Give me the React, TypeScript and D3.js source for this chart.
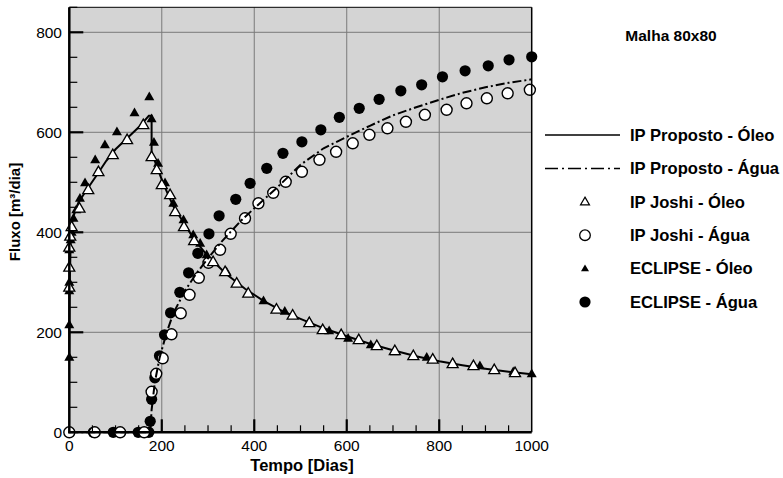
import React from "react";
import * as d3 from "d3";

type P = [number, number];

const xTicksMajor = [0, 200, 400, 600, 800, 1000];
const yTicksMajor = [0, 200, 400, 600, 800];
const minorStep = 50;

const propostoOleo: P[] = [
  [0, 150], [1, 300], [3, 380], [5, 415], [10, 435], [20, 460], [40, 488], [60, 515],
  [80, 543], [100, 566], [125, 588], [150, 610], [172, 633], [178, 633], [178, 560],
  [190, 530], [203, 498], [225, 452], [246, 421], [270, 386], [300, 352], [340, 316],
  [380, 287], [420, 263], [460, 243], [500, 227], [550, 208], [600, 192], [650, 177],
  [700, 164], [750, 152], [800, 142], [850, 134], [900, 127], [950, 121], [1000, 116],
];

const propostoAgua: P[] = [
  [0, 0], [175, 0], [178, 45], [185, 100], [195, 148], [210, 198], [225, 238],
  [250, 283], [275, 318], [300, 348], [330, 382], [370, 422], [400, 448], [450, 490],
  [500, 535], [550, 568], [600, 591], [650, 613], [700, 634], [750, 650], [800, 665],
  [850, 679], [900, 690], [950, 699], [1000, 706],
];

const joshiOleo: P[] = [
  [0, 290], [0, 330], [0, 370], [2, 392], [5, 411], [22, 448], [41, 485], [63, 521],
  [94, 555], [125, 585], [160, 615], [178, 551], [189, 525], [200, 495], [218, 475],
  [229, 441], [248, 411], [270, 383], [311, 341], [337, 321], [362, 298], [387, 278],
  [448, 246], [483, 234], [519, 219], [548, 205], [588, 195], [626, 185], [665, 173],
  [704, 163], [744, 153], [786, 146], [829, 137], [874, 133], [919, 125], [964, 119],
];

const joshiAgua: P[] = [
  [0, 0], [55, 0], [110, 0], [162, 0], [178, 81], [188, 117], [202, 148], [221, 196],
  [241, 238], [260, 275], [280, 309], [301, 339], [326, 365], [349, 397], [380, 428],
  [409, 458], [441, 479], [468, 501], [503, 521], [541, 545], [577, 561], [613, 578],
  [649, 595], [688, 608], [728, 621], [769, 635], [816, 645], [859, 658], [903, 668],
  [948, 678], [996, 685],
];

const eclipseOleo: P[] = [
  [0, 150], [0, 215], [0, 283], [0, 300], [0, 330], [0, 365], [3, 385], [5, 400],
  [9, 428], [15, 445], [23, 468], [34, 499], [56, 545], [77, 575], [103, 601],
  [141, 639], [173, 671], [178, 627], [183, 580], [192, 538], [207, 499], [225, 458],
  [247, 425], [268, 395], [283, 378], [297, 355], [340, 321], [362, 298], [420, 263],
  [466, 242], [519, 221], [562, 203], [603, 188], [652, 175], [704, 161], [773, 150],
  [830, 138], [888, 133], [960, 121], [1000, 117],
];

const eclipseAgua: P[] = [
  [52, 0], [95, 0], [149, 0], [172, 0], [175, 22], [178, 66], [185, 109], [195, 153],
  [206, 195], [219, 239], [239, 280], [258, 319], [278, 358], [302, 397], [324, 433],
  [360, 466], [391, 498], [427, 528], [462, 558], [503, 581], [544, 605], [584, 630],
  [627, 648], [670, 666], [717, 683], [762, 695], [807, 711], [856, 723], [906, 733],
  [951, 745], [1000, 751],
];

const legendLabels = [
  "IP Proposto - Óleo",
  "IP Proposto - Água",
  "IP Joshi - Óleo",
  "IP Joshi - Água",
  "ECLIPSE - Óleo",
  "ECLIPSE - Água",
];

const W = 783;
const H = 478;
const L = 69.3, R = 531.7, T = 7.3, B = 432.3;
const FONT = "'Liberation Sans', Arial, sans-serif";

const x = d3.scaleLinear().domain([0, 1000]).range([L, R]);
const y = d3.scaleLinear().domain([0, 850]).range([B, T]);

const line = d3.line<P>().x((d) => x(d[0])).y((d) => y(d[1]));

function tri(cx: number, cy: number, s: number) {
  const h = s * 0.866;
  return `M${cx},${cy - h * 0.6}L${cx + s / 2},${cy + h * 0.4}L${cx - s / 2},${cy + h * 0.4}Z`;
}

const DASHDOT = "9,3,2,3";

export default function App() {
  const minorX = d3.range(0, 1001, minorStep).filter((v) => v % 200 !== 0);
  const minorY = d3.range(0, 851, minorStep).filter((v) => v % 200 !== 0);
  const legY = (i: number) => 135 + i * 33.4;
  const legLineX1 = 545, legLineX2 = 620, legMarkX = 585, legTextX = 630;
  return (
    <svg width={W} height={H} style={{ position: "absolute", left: 0, top: 0, background: "#fff" }} fontFamily={FONT}>
      <rect x={L} y={T} width={R - L} height={B - T} fill="#d4d4d4" />
      {/* grid */}
      {[200, 400, 600, 800].map((v) => (
        <line key={"gx" + v} x1={x(v)} x2={x(v)} y1={T} y2={B} stroke="#7a7a7a" strokeWidth={1} />
      ))}
      {[200, 400, 600, 800].map((v) => (
        <line key={"gy" + v} x1={L} x2={R} y1={y(v)} y2={y(v)} stroke="#7a7a7a" strokeWidth={1} />
      ))}
      {/* lines */}
      <path d={line(propostoOleo) || ""} fill="none" stroke="#000" strokeWidth={2} />
      {/* markers */}
      {eclipseAgua.map((d, i) => (
        <circle key={"ea" + i} cx={x(d[0])} cy={y(d[1])} r={5.6} fill="#000" />
      ))}
      {joshiAgua.map((d, i) => (
        <circle key={"ja" + i} cx={x(d[0])} cy={y(d[1])} r={5.5} fill="#fff" stroke="#000" strokeWidth={1.4} />
      ))}
      <path d={line(propostoAgua) || ""} fill="none" stroke="#000" strokeWidth={2} strokeDasharray={DASHDOT} />
      {eclipseOleo.map((d, i) => (
        <path key={"eo" + i} d={tri(x(d[0]), y(d[1]), 10)} fill="#000" />
      ))}
      {joshiOleo.map((d, i) => (
        <path key={"jo" + i} d={tri(x(d[0]), y(d[1]), 11)} fill="#fff" stroke="#000" strokeWidth={1.3} />
      ))}
      {/* frame */}
      <line x1={L} x2={R} y1={T} y2={T} stroke="#000" strokeWidth={1} />
      <line x1={R} x2={R} y1={T} y2={B} stroke="#000" strokeWidth={1.5} />
      <line x1={L} x2={L} y1={T} y2={B + 1} stroke="#000" strokeWidth={2.5} />
      <line x1={L - 1} x2={R} y1={B} y2={B} stroke="#000" strokeWidth={2.5} />
      {/* ticks */}
      {xTicksMajor.filter((v) => v > 0 && v < 1000).map((v) => (
        <line key={"xt" + v} x1={x(v)} x2={x(v)} y1={B} y2={B - 13} stroke="#000" strokeWidth={2.2} />
      ))}
      {minorX.map((v) => (
        <line key={"xm" + v} x1={x(v)} x2={x(v)} y1={B} y2={B - 7} stroke="#000" strokeWidth={1.2} />
      ))}
      {yTicksMajor.filter((v) => v > 0).map((v) => (
        <line key={"yt" + v} x1={L} x2={L + 14} y1={y(v)} y2={y(v)} stroke="#000" strokeWidth={2.2} />
      ))}
      {minorY.map((v) => (
        <line key={"ym" + v} x1={L} x2={L + 8} y1={y(v)} y2={y(v)} stroke="#000" strokeWidth={1.2} />
      ))}
      {/* tick labels */}
      {xTicksMajor.map((v) => (
        <text key={"xl" + v} x={x(v)} y={451} textAnchor="middle" fontSize={15.5} fill="#000">{v}</text>
      ))}
      {yTicksMajor.map((v) => (
        <text key={"yl" + v} x={62} y={y(v) + 5.5} textAnchor="end" fontSize={15.5} fill="#000">{v}</text>
      ))}
      {/* axis titles */}
      <text x={302} y={471} textAnchor="middle" fontSize={16.5} fontWeight="bold" fill="#000">Tempo [Dias]</text>
      <text transform={`translate(20,212) rotate(-90)`} textAnchor="middle" fontSize={15} fontWeight="bold" fill="#000">Fluxo [m³/dia]</text>
      {/* legend */}
      <text x={671} y={41} textAnchor="middle" fontSize={15.5} fontWeight="bold" fill="#000">Malha 80x80</text>
      {legendLabels.map((lab, i) => (
        <text key={"lt" + i} x={legTextX} y={legY(i) + 5.7} fontSize={16.6} fontWeight="bold" fill="#000">{lab}</text>
      ))}
      <line x1={legLineX1} x2={legLineX2} y1={legY(0)} y2={legY(0)} stroke="#000" strokeWidth={1.5} />
      <line x1={legLineX1} x2={legLineX2} y1={legY(1)} y2={legY(1)} stroke="#000" strokeWidth={1.5} strokeDasharray="13,4,2,4" />
      <path d={tri(legMarkX, legY(2), 9)} fill="#fff" stroke="#000" strokeWidth={1.2} />
      <circle cx={legMarkX} cy={legY(3)} r={5.3} fill="#fff" stroke="#000" strokeWidth={1.3} />
      <path d={tri(legMarkX, legY(4), 8)} fill="#000" />
      <circle cx={legMarkX} cy={legY(5)} r={5.6} fill="#000" />
    </svg>
  );
}
